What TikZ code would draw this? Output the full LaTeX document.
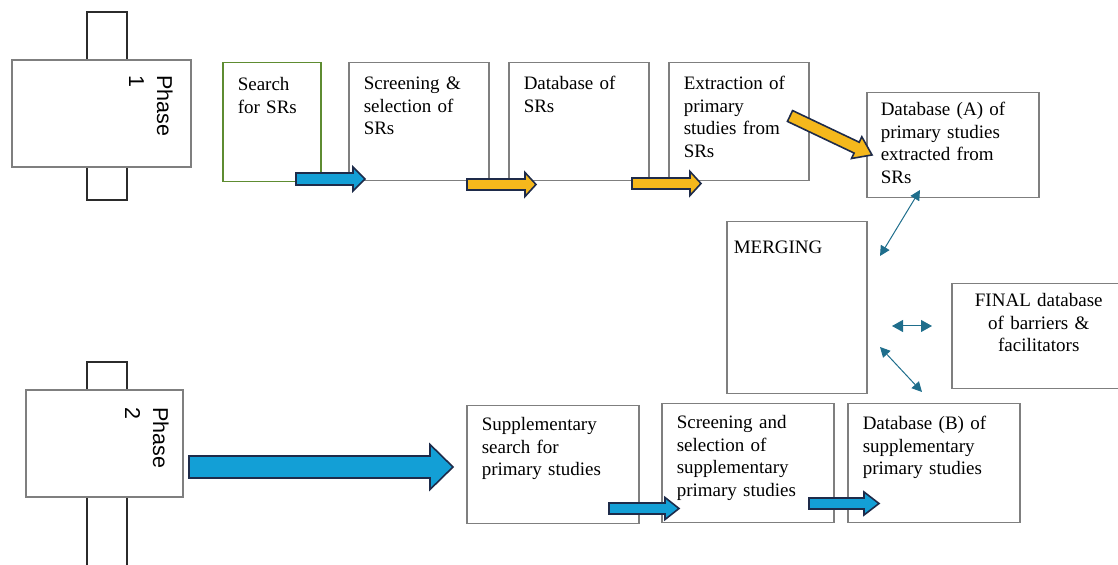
\documentclass[tikz,border=0pt]{standalone}
\usepackage{fontspec}
\setmainfont{Liberation Serif}
\newfontfamily\phasefont{Liberation Sans}
\usetikzlibrary{arrows.meta}
\definecolor{boxline}{HTML}{7F7F7F}
\definecolor{tabline}{HTML}{2B2B2B}
\definecolor{searchgreen}{HTML}{5E8C31}
\definecolor{arrowblue}{HTML}{139FD6}
\definecolor{arrowgold}{HTML}{F5B81C}
\definecolor{arrowline}{HTML}{1E2B4A}
\definecolor{linkblue}{HTML}{1F6E8C}
% block arrow: style, start, angle, length, shaft half, head half, head length
\newcommand{\fatarrow}[7]{%
  \begin{scope}[shift={#2}, rotate=#3]
    \draw[#1] (0,-#5) -- (#4-#7,-#5) -- (#4-#7,-#6) -- (#4,0) -- (#4-#7,#6) -- (#4-#7,#5) -- (0,#5) -- cycle;
  \end{scope}}
\tikzset{
  stage/.style={draw=boxline, line width=0.75pt, anchor=north west, align=left, inner xsep=7.5pt, inner ysep=0pt, font=\fontsize{9.5}{11.25}\selectfont},
  phasebox/.style={draw=boxline, line width=0.75pt, fill=white, inner sep=0pt},
  phaselabel/.style={rotate=-90, anchor=north west, inner sep=0pt, align=left, font=\phasefont\fontsize{10.75}{14}\selectfont},
  tab/.style={draw=tabline, line width=0.75pt},
  bluearrow/.style={fill=arrowblue, draw=arrowline, line width=0.8pt},
  goldarrow/.style={fill=arrowgold, draw=arrowline, line width=0.8pt},
  link/.style={{Triangle[length=5pt,width=5pt]}-{Triangle[length=5pt,width=5pt]}, draw=linkblue, line width=0.5pt}
}
\begin{document}
\begin{tikzpicture}[x=0.5pt, y=-0.5pt]
\useasboundingbox (0,0) rectangle (1118,565);
% phase 1
\draw[tab] (87,12) rectangle (127,60);
\draw[tab] (87,167) rectangle (127,200);
\node[phasebox, minimum width=89.5pt, minimum height=53.5pt] (ph1) at (101.5,113.5) {};
\node[phaselabel] (ph1text) at (173,75) {Phase\\1};
% phase 2
\draw[tab] (87,362) rectangle (127,390);
\draw[tab] (87,497) rectangle (127,570);
\node[phasebox, minimum width=78.5pt, minimum height=53.5pt] (ph2) at (104.5,443.5) {};
\node[phaselabel] (ph2text) at (169,407) {Phase\\2};
% top row
\node[stage, draw=searchgreen, text width=34pt, text height=14pt, text depth=45.5pt] (search) at (222,62) {Search\\for SRs};
\node[stage, text width=55pt, text height=13.5pt, text depth=45.5pt] (screen) at (348,62) {Screening \&\\selection of\\SRs};
\node[stage, text width=55pt, text height=13.5pt, text depth=45.5pt] (dbsr) at (508,62) {Database of\\SRs};
\node[stage, text width=55pt, text height=13.5pt, text depth=45.5pt] (extract) at (668,62) {Extraction of\\primary\\studies from\\SRs};
\node[stage, inner xsep=7pt, text width=72pt, text height=11.5pt, text depth=41pt] (dbA) at (866,92) {Database (A) of\\primary studies\\extracted from\\SRs};
% merging
\node[stage, inner xsep=3.5pt, text width=63pt, text height=16pt, text depth=70pt] (merge) at (726,221) {MERGING};
\node[stage, align=center, text width=72pt, text height=11.5pt, text depth=41pt] (final) at (951,283) {FINAL database\\of barriers \&\\facilitators};
% bottom row
\node[stage, text width=71pt, text height=12.5pt, text depth=46.5pt] (supp) at (466,405) {Supplementary\\search for\\primary studies};
\node[stage, text width=71pt, text height=12.5pt, text depth=47pt] (suppscreen) at (661,403) {Screening and\\selection of\\supplementary\\primary studies};
\node[stage, text width=71pt, text height=13pt, text depth=46.5pt] (dbB) at (847,403) {Database (B) of\\supplementary\\primary studies};
% block arrows
\fatarrow{bluearrow}{(296,179)}{0}{69}{6}{12}{12}
\fatarrow{goldarrow}{(467,184.5)}{0}{69}{5.5}{12}{11}
\fatarrow{goldarrow}{(632,183.5)}{0}{69}{5.5}{12}{11}
\fatarrow{goldarrow}{(790,116)}{-25.4}{90.8}{6}{12}{17}
\fatarrow{bluearrow}{(189,467)}{0}{264}{11}{22.5}{23}
\fatarrow{bluearrow}{(609,508.5)}{0}{70}{5.5}{11}{14}
\fatarrow{bluearrow}{(809,503.5)}{0}{70}{5.5}{11.5}{15}
% merging links
\coordinate (mtop) at (880,256);
\coordinate (atop) at (920,190);
\coordinate (mmid) at (892,326);
\coordinate (fmid) at (932,326);
\coordinate (mlow) at (880,347);
\coordinate (blow) at (922,392);
\draw[link] (atop) -- (mtop);
\draw[link, {Triangle[length=5.5pt,width=6pt]}-{Triangle[length=5.5pt,width=6pt]}] (mmid) -- (fmid);
\draw[link] (mlow) -- (blow);
\end{tikzpicture}
\end{document}
